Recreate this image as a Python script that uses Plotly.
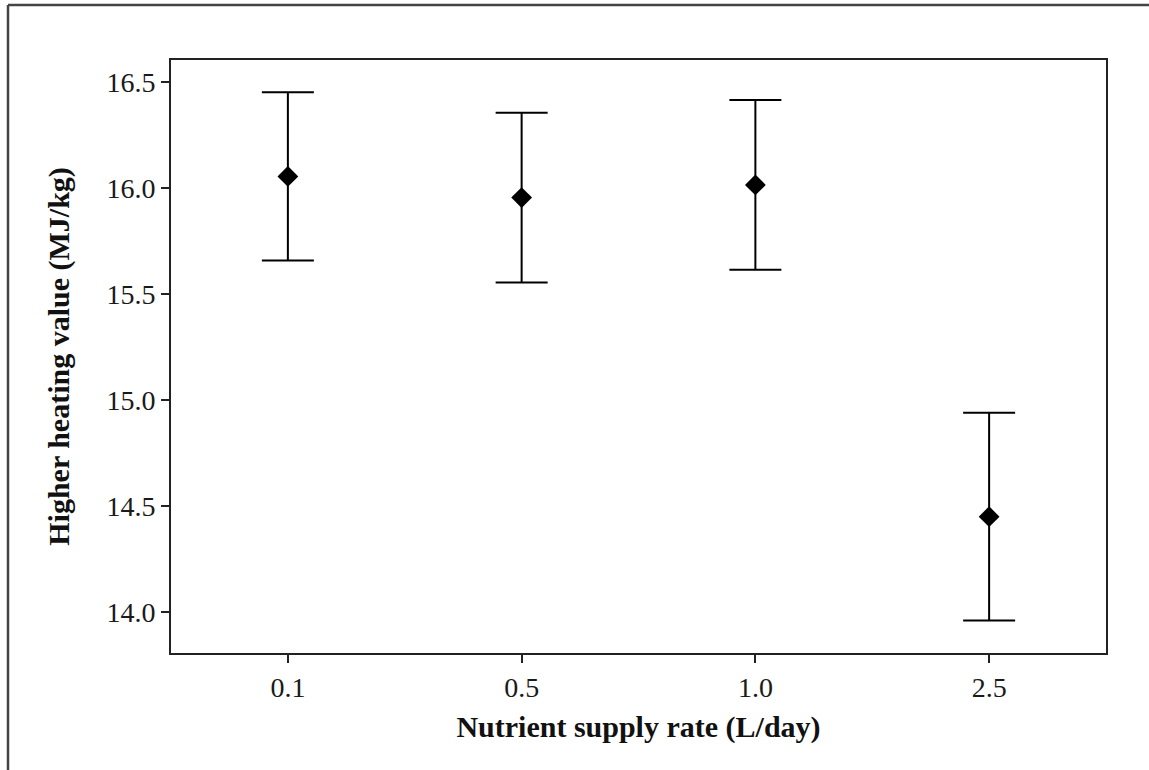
import plotly.graph_objects as go

categories = ["0.1", "0.5", "1.0", "2.5"]
hhv_mean = [16.055, 15.955, 16.015, 14.45]
hhv_err = [0.397, 0.400, 0.400, 0.490]
y_ticks = [14.0, 14.5, 15.0, 15.5, 16.0, 16.5]
y_tick_labels = ["14.0", "14.5", "15.0", "15.5", "16.0", "16.5"]

font_family = "Liberation Serif, Times New Roman, serif"

fig = go.Figure()
fig.add_trace(go.Scatter(
    x=categories,
    y=hhv_mean,
    mode="markers",
    marker=dict(symbol="diamond", size=16, color="black"),
    error_y=dict(type="data", array=hhv_err, visible=True,
                 color="black", thickness=2, width=26),
    showlegend=False,
))

# outer figure frame (top and left edges visible)
L, R, T, B = 171, 43, 60, 117
W, H = 1149, 770
pw, ph = W - L - R, H - T - B
def px_x(px):
    return (px - L) / pw
def px_y(py):
    return (H - B - py) / ph

fig.add_shape(type="line", xref="paper", yref="paper",
              x0=px_x(8), x1=px_x(1160), y0=px_y(5), y1=px_y(5),
              line=dict(color="#444", width=2.5))
fig.add_shape(type="line", xref="paper", yref="paper",
              x0=px_x(8), x1=px_x(8), y0=px_y(5), y1=px_y(780),
              line=dict(color="#444", width=2.5))

fig.update_layout(
    width=W, height=H,
    margin=dict(l=L, r=R, t=T, b=B),
    paper_bgcolor="white", plot_bgcolor="white",
    font=dict(family=font_family, color="#1a1a1a"),
)
fig.update_xaxes(
    type="category", range=[-0.5, 3.5],
    showline=True, mirror=True, linecolor="#222", linewidth=2,
    ticks="outside", ticklen=8, tickwidth=2, tickcolor="#222",
    tickfont=dict(size=28, family=font_family, color="#1a1a1a"),
    showgrid=False, zeroline=False,
    title=dict(text="<b>Nutrient supply rate (L/day)</b>",
               font=dict(size=30, family=font_family, color="#111"),
               standoff=14),
)
fig.update_yaxes(
    range=[13.807, 16.604],
    tickvals=y_ticks, ticktext=y_tick_labels,
    showline=True, mirror=True, linecolor="#222", linewidth=2,
    ticks="outside", ticklen=8, tickwidth=2, tickcolor="#222",
    tickfont=dict(size=28, family=font_family, color="#1a1a1a"),
    showgrid=False, zeroline=False,
    title=dict(text="<b>Higher heating value (MJ/kg)</b>",
               font=dict(size=30, family=font_family, color="#111"),
               standoff=28),
)

fig.write_html("out.html",
               config={"displayModeBar": False},
               post_script="document.body.style.margin='0';document.body.style.padding='0';")
